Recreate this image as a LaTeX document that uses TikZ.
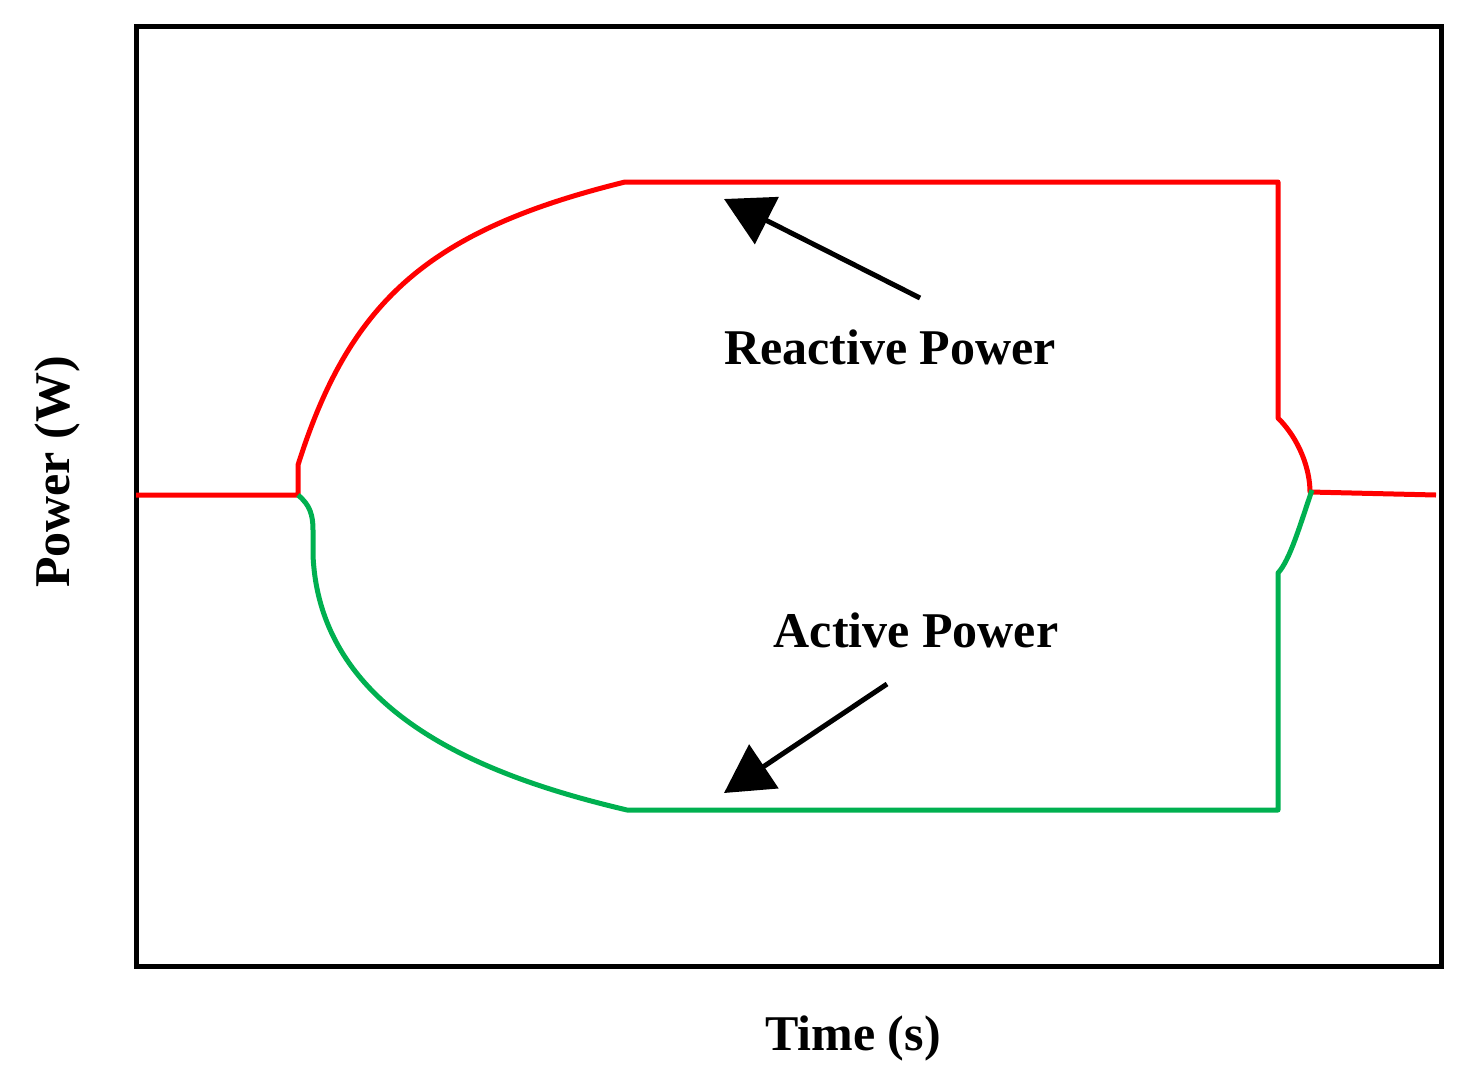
\documentclass[tikz,border=0pt]{standalone}
\usepackage{fontspec}
\setmainfont{Liberation Serif}
\usetikzlibrary{arrows.meta}
\definecolor{rp}{RGB}{255,0,0}
\definecolor{ap}{RGB}{0,176,80}
\begin{document}
\begin{tikzpicture}[x=1pt,y=-1pt,
  curve/.style={line width=5pt,line join=round},
  lbl/.style={font=\fontsize{50}{56}\selectfont\bfseries,inner sep=0pt},
  pointer/.style={line width=5pt,-{Triangle[length=48pt,width=52pt]}}]
\useasboundingbox (0,0) rectangle (1472,1082);
\draw[line width=5pt] (136,26) rectangle (1441,966);
\draw[curve,rp] (136,495) -- (298,495) -- (298,465)
  .. controls (350,300) and (430,230) .. (625,182) -- (1278,182) -- (1278,418)
  .. controls (1300,440) and (1310,470) .. (1310,492) -- (1436,495);
\draw[curve,ap] (298,495) .. controls (310,505) and (313,515) .. (313,530) -- (313,555)
  .. controls (320,720) and (500,780) .. (627,810) -- (1278,810) -- (1278,573)
  .. controls (1290,560) and (1300,525) .. (1312,490);
\node[lbl] (rl) at (890,347) {Reactive Power};
\node[lbl] (al) at (916,630) {Active Power};
\node[lbl] (tx) at (853,1038) {Time (s)};
\node[lbl,rotate=90] (ty) at (57,472) {Power (W)};
\coordinate (r1) at (920,298); \coordinate (r2) at (724,199);
\coordinate (a1) at (887,684); \coordinate (a2) at (724,793);
\draw[pointer] (r1) -- (r2);
\draw[pointer] (a1) -- (a2);
\end{tikzpicture}
\end{document}
